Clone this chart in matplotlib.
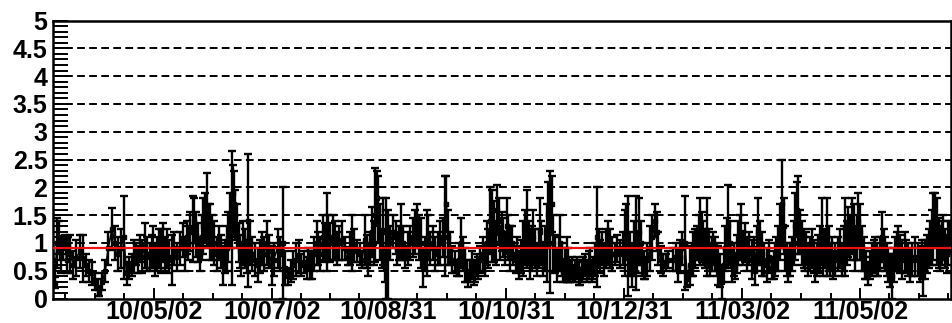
import numpy as np
import matplotlib
matplotlib.use("Agg")
import matplotlib.pyplot as plt
import matplotlib.dates as mdates
from matplotlib.ticker import FixedLocator, MultipleLocator

plt.rcParams["font.family"] = ["Liberation Sans", "DejaVu Sans"]
plt.rcParams["font.weight"] = "bold"

# ---- data -------------------------------------------------------------
start_date = np.datetime64("2010-03-11")
x_end_day = 464

# day offsets from start_date
day = [
    0, 1, 2, 3, 4, 5, 6, 7, 8, 9, 10.5, 12, 14, 15.7, 17, 18.5, 20, 21.5, 23, 24, 25.5, 27, 28.5, 30.5, 32, 33.6, 35, 36.6, 38, 39.5, 41, 42, 43, 44, 45, 46, 47.5, 48.5, 50, 51, 51.7, 52.7, 53.7, 55,
    56, 57, 58, 59, 60, 61.5, 62.5, 64, 65.6, 67, 68, 69, 70, 71, 72.4, 73, 74, 75, 76, 77, 77.5, 78.5, 79.5, 80.3, 81, 82, 83, 84.5, 86, 87, 88, 89, 89.7, 90.5, 91.5, 92.5, 93, 93.5, 94, 95, 96, 96.6, 97.3, 98, 99, 100, 101, 102, 103, 104.5, 106, 107, 108, 109, 110.5, 111.5,
    113, 114, 116, 117.5, 119, 120, 121.5, 123, 124, 125.5, 127, 128, 129.5, 131, 132, 133, 134, 135, 136.4, 137, 138, 139.5, 140.5, 141.5, 142.3, 143, 144.5, 145.7, 147, 148, 149.5, 151, 152.5, 153.5, 154.5, 155.7, 157, 158.5, 159.7, 161, 162, 163, 164, 164.8, 165.7, 166.5, 167.3, 168, 169, 170, 170.5,
    171.3, 172, 173, 174.3, 175.7, 177, 178, 179, 180, 181, 182, 183.3, 184.5, 186, 187, 188, 189, 190, 191, 192, 193, 194, 195, 196.3, 197.5, 199, 200, 201.3, 202.5, 203.3, 204, 205, 206, 207.5, 209, 210, 211, 212, 213, 214, 214.5, 215.5, 216.5, 217.3, 218, 219, 219.6, 220.5, 222, 223, 224, 225, 226, 227,
    228, 229, 229.5, 230.3, 231, 232, 232.6, 233.5, 234.6, 235.3, 236, 237, 237.7, 239, 240, 241, 242, 243, 244, 245, 245.8, 246.5, 247.3, 248, 249, 250, 251, 251.7, 252.4, 253, 254, 255, 256, 257, 257.7, 258.4, 259.5, 260.5, 261.3, 262, 263, 263.6, 264.6, 265.6, 266.3, 267, 268, 268.7, 269.7, 270.8, 271.6, 272.4, 273.2, 274, 275, 276, 276.8, 277.5, 278.3, 279, 280, 281, 282, 282.7, 283.5,
    284.5, 285.5, 287, 288, 289, 290.4, 291.5, 293, 294.3, 295.6, 296.3, 297, 298, 299, 300, 301, 302, 303, 303.7, 304.4, 305.2, 306, 307, 308.5, 309.7, 311, 312, 312.7, 314, 315, 316.5, 318, 320.4, 322, 323, 324, 325, 326.6, 327.7, 329, 330, 330.7, 331.8, 332.8, 333.6, 334.4, 335.2, 336, 337, 338, 338.8, 339.5, 340.3,
    341, 342, 343, 343.7, 344.7, 345.7, 346.5, 347.3, 348.2, 349, 350, 351, 351.7, 352.5, 353.3, 354, 355, 355.7, 356.6, 357.6, 358.6, 359.8, 361, 362, 362.8, 363.6, 364.3, 365.3, 366.4, 367.6, 369, 370.2, 371.6, 372.3, 373, 373.8, 374.7, 375.6, 376.7, 377.5, 378.3, 379.2, 380, 381, 382, 382.8, 383.5, 384.3, 385, 386, 387, 387.8, 388.6, 389.3, 390, 391, 392, 393, 393.8, 394.6, 395.4, 396.4, 397.4,
    398, 399, 400, 400.8, 401.5, 402.3, 403, 404.3, 405.7, 406.7, 407.7, 408.5, 409.3, 410.2, 411, 412, 413, 413.7, 414.5, 415.3, 416, 417, 418, 418.8, 419.6, 420.3, 421, 422, 423, 424, 424.8, 425.6, 426.4, 427.4, 428.4, 429.2, 430, 430.8, 431.5, 432.5, 433.6, 434.3, 435, 436, 436.7, 437.7, 438.8, 440, 441, 442, 443, 444, 445.5, 446.7, 448, 448.8, 449.6, 450.6, 451.7, 452.4, 453, 454, 454.8, 455.8, 456.8, 457.6, 458.4, 459.2, 460, 461, 462, 462.7, 463.5,
]

ratio = [
    0.7, 0.28, 1.0, 1.1, 0.75, 0.9, 1.05, 0.7, 0.95, 0.8, 0.6, 0.73, 0.85, 0.72, 0.6, 0.5, 0.45, 0.3, 0.2, 0.1, 0.3, 0.5, 0.9, 1.25, 1.0, 0.8, 0.9, 1.1, 0.45, 0.55, 0.6, 0.75, 0.8, 0.7, 0.9, 0.75, 0.95, 0.8, 0.75, 0.85, 0.93, 0.7, 0.8, 0.9,
    0.85, 1.0, 0.8, 0.9, 0.75, 0.7, 0.9, 0.75, 0.9, 1.05, 0.8, 1.1, 1.0, 1.2, 1.25, 1.4, 1.15, 1.0, 0.8, 1.1, 1.3, 1.45, 1.6, 1.3, 1.2, 1.1, 1.0, 0.8, 1.0, 0.85, 0.6, 0.75, 0.9, 1.1, 1.4, 1.45, 1.9, 1.7, 1.5, 1.3, 1.0, 0.85, 0.7, 1.0, 0.9, 0.75, 1.4, 1.0, 0.8, 0.7, 0.6, 0.75, 0.9, 0.8, 1.0, 0.85,
    0.6, 0.7, 0.9, 0.8, 1.0, 0.55, 0.4, 0.5, 0.6, 0.7, 0.75, 0.6, 0.65, 0.55, 0.7, 0.6, 0.6, 0.8, 1.0, 0.9, 0.8, 1.1, 1.0, 1.2, 1.1, 1.0, 1.1, 1.05, 0.9, 1.0, 1.05, 0.9, 0.75, 0.9, 1.0, 0.95, 0.85, 0.8, 0.7, 1.05, 0.85, 0.7, 0.9, 1.2, 1.0, 1.5, 1.8, 1.6, 1.2, 0.9, 1.2,
    0.55, 0.9, 0.8, 1.0, 1.2, 1.1, 0.9, 1.0, 1.2, 1.0, 0.75, 0.9, 1.0, 1.1, 1.2, 1.3, 1.1, 1.0, 0.55, 0.8, 1.0, 1.1, 0.9, 1.0, 0.8, 0.9, 1.0, 1.1, 1.3, 1.7, 1.1, 0.9, 0.7, 0.65, 0.55, 0.7, 1.0, 0.8, 0.6, 0.5, 0.35, 0.5, 0.6, 0.45, 0.5, 0.6, 0.55, 0.7, 0.8, 0.7, 1.0, 0.9, 1.4, 1.3,
    1.2, 1.0, 1.6, 1.4, 1.0, 1.2, 1.1, 0.9, 1.3, 1.1, 0.9, 1.0, 0.8, 0.7, 0.8, 0.6, 0.75, 0.9, 1.1, 1.25, 1.0, 0.8, 0.9, 1.1, 0.9, 0.7, 0.9, 1.2, 1.0, 0.7, 0.9, 1.0, 1.5, 1.2, 1.7, 1.0, 0.8, 0.6, 0.8, 1.0, 0.7, 0.5, 0.6, 0.7, 0.6, 0.5, 0.55, 0.45, 0.5, 0.55, 0.45, 0.4, 0.5, 0.55, 0.6, 0.5, 0.6, 0.65, 0.5, 0.55, 0.7, 1.1, 0.9, 0.75, 0.9,
    0.7, 0.9, 1.0, 0.9, 0.8, 0.8, 0.9, 0.8, 0.9, 1.0, 1.2, 0.95, 0.8, 0.6, 0.9, 1.0, 0.8, 1.2, 1.0, 0.7, 0.6, 0.55, 0.7, 0.9, 1.1, 1.4, 1.2, 0.9, 0.7, 0.6, 0.65, 0.7, 0.7, 0.75, 0.6, 0.75, 0.9, 1.0, 0.35, 0.6, 0.7, 0.8, 0.9, 1.0, 1.1, 1.2, 1.1, 1.0, 0.9, 1.1, 0.9, 0.7, 0.8,
    0.9, 0.8, 0.7, 0.6, 0.5, 0.3, 0.6, 0.9, 1.0, 1.3, 1.0, 0.6, 0.7, 0.55, 0.8, 1.0, 1.1, 1.2, 0.9, 1.0, 0.8, 0.9, 0.7, 0.8, 0.5, 0.9, 1.2, 1.0, 0.8, 0.7, 0.6, 0.75, 0.55, 0.6, 0.7, 0.8, 0.9, 1.2, 1.7, 1.3, 0.9, 0.7, 0.6, 0.7, 0.8, 1.0, 1.3, 1.6, 1.5, 1.2, 1.0, 0.9, 0.8, 0.9, 0.7, 0.8, 0.9, 0.75, 0.6, 0.7, 0.8, 0.9, 1.2,
    0.8, 0.9, 1.1, 0.9, 0.7, 0.8, 0.6, 0.7, 0.8, 0.9, 0.7, 0.9, 1.1, 1.0, 1.2, 1.1, 1.3, 1.2, 0.9, 1.1, 1.4, 1.2, 0.9, 0.8, 0.6, 0.55, 0.45, 0.6, 0.7, 0.75, 0.8, 0.7, 0.65, 0.8, 1.1, 0.9, 0.8, 0.7, 0.6, 0.5, 0.4, 0.6, 0.8, 0.85, 0.9, 0.8, 0.7, 0.85, 0.75, 0.7, 0.6, 0.7, 0.75, 0.7, 0.6, 0.7, 0.5, 0.7, 0.8, 0.9, 1.0, 1.1, 1.3, 1.4, 1.2, 1.0, 0.9, 1.0, 1.1, 0.9, 0.8, 1.0, 1.1,
]

err = [
    0.3, 0.1, 0.45, 0.3, 0.3, 0.2, 0.1, 0.25, 0.15, 0.34, 0.25, 0.33, 0.3, 0.42, 0.2, 0.2, 0.2, 0.15, 0.15, 0.05, 0.15, 0.2, 0.3, 0.38, 0.3, 0.3, 0.35, 0.75, 0.2, 0.2, 0.2, 0.3, 0.2, 0.25, 0.25, 0.3, 0.4, 0.3, 0.25, 0.3, 0.38, 0.3, 0.3, 0.35,
    0.4, 0.35, 0.3, 0.35, 0.3, 0.45, 0.3, 0.25, 0.3, 0.3, 0.3, 0.3, 0.3, 0.35, 0.6, 0.4, 0.4, 0.35, 0.3, 0.4, 0.5, 0.45, 0.65, 0.4, 0.5, 0.4, 0.4, 0.3, 0.3, 0.3, 0.35, 0.3, 0.4, 0.45, 0.5, 1.2, 0.5, 0.6, 0.45, 0.4, 0.35, 0.3, 0.3, 0.4, 0.35, 0.3, 1.2, 0.4, 0.3, 0.3, 0.3, 0.3, 0.3, 0.3, 0.4, 0.3,
    0.35, 0.3, 0.35, 0.3, 1.0, 0.3, 0.15, 0.2, 0.25, 0.3, 0.3, 0.2, 0.2, 0.2, 0.2, 0.25, 0.25, 0.3, 0.4, 0.3, 0.3, 0.4, 0.35, 0.7, 0.4, 0.35, 0.4, 0.35, 0.3, 0.3, 0.35, 0.2, 0.15, 0.3, 0.5, 0.3, 0.2, 0.2, 0.15, 0.45, 0.3, 0.3, 0.3, 0.45, 0.4, 0.85, 0.5, 0.6, 0.5, 0.35, 0.6,
    0.25, 0.9, 0.8, 0.3, 0.3, 0.3, 0.3, 0.3, 0.5, 0.3, 0.2, 0.3, 0.3, 0.35, 0.4, 0.4, 0.4, 0.45, 0.35, 0.3, 0.6, 0.4, 0.3, 0.3, 0.3, 0.3, 0.4, 0.35, 0.9, 0.5, 0.5, 0.3, 0.25, 0.2, 0.15, 0.3, 0.45, 0.3, 0.3, 0.2, 0.15, 0.2, 0.25, 0.2, 0.2, 0.2, 0.2, 0.25, 0.3, 0.3, 0.4, 0.35, 0.6, 0.65,
    0.55, 0.4, 0.45, 0.4, 0.3, 0.35, 0.35, 0.3, 0.5, 0.4, 0.4, 0.3, 0.2, 0.25, 0.3, 0.25, 0.3, 0.5, 0.5, 0.7, 0.4, 0.45, 0.4, 0.5, 0.35, 0.3, 0.35, 0.6, 0.4, 0.3, 0.4, 0.7, 0.6, 1.1, 0.5, 0.5, 0.35, 0.3, 0.3, 0.5, 0.3, 0.2, 0.3, 0.4, 0.3, 0.2, 0.2, 0.15, 0.2, 0.2, 0.2, 0.15, 0.2, 0.2, 0.2, 0.2, 0.25, 0.25, 0.2, 0.2, 0.3, 0.9, 0.35, 0.3, 0.3,
    0.3, 0.35, 0.4, 0.35, 0.3, 0.2, 0.25, 0.25, 0.3, 0.6, 0.5, 0.9, 0.4, 0.4, 0.5, 0.85, 0.35, 0.6, 0.4, 0.3, 0.25, 0.2, 0.3, 0.4, 0.4, 0.3, 0.35, 0.3, 0.25, 0.2, 0.15, 0.15, 0.2, 0.25, 0.3, 0.3, 0.3, 0.85, 0.15, 0.35, 0.3, 0.4, 0.35, 0.3, 0.4, 0.6, 0.45, 0.4, 0.35, 0.7, 0.35, 0.3, 0.3,
    0.3, 0.3, 0.3, 0.35, 0.3, 0.3, 0.3, 0.4, 0.45, 0.75, 0.4, 0.3, 0.3, 0.2, 0.35, 0.4, 0.4, 0.5, 0.3, 0.35, 0.3, 0.3, 0.35, 0.3, 0.25, 0.4, 0.6, 0.4, 0.4, 0.3, 0.3, 0.3, 0.2, 0.25, 0.3, 0.3, 0.4, 0.5, 0.8, 0.5, 0.4, 0.3, 0.3, 0.3, 0.3, 0.4, 0.6, 0.5, 0.7, 0.4, 0.4, 0.35, 0.3, 0.3, 0.3, 0.3, 0.35, 0.3, 0.3, 0.3, 0.35, 0.4, 0.6,
    0.4, 0.35, 0.7, 0.4, 0.3, 0.3, 0.25, 0.3, 0.3, 0.35, 0.3, 0.4, 0.7, 0.4, 0.45, 0.4, 0.5, 0.5, 0.4, 0.4, 0.5, 0.5, 0.4, 0.3, 0.25, 0.2, 0.2, 0.25, 0.3, 0.3, 0.3, 0.3, 0.25, 0.3, 0.45, 0.35, 0.3, 0.3, 0.3, 0.3, 0.4, 0.3, 0.3, 0.35, 0.4, 0.35, 0.35, 0.35, 0.3, 0.3, 0.3, 0.3, 0.35, 0.3, 0.3, 0.35, 0.45, 0.35, 0.35, 0.35, 0.4, 0.5, 0.6, 0.5, 0.6, 0.45, 0.4, 0.4, 0.4, 0.35, 0.35, 0.4, 0.3,
]

reference_level = 0.91
tick_dates = ["2010-05-02", "2010-07-02", "2010-08-31", "2010-10-31",
              "2010-12-31", "2011-03-02", "2011-05-02"]
y_ticks = [0, 0.5, 1, 1.5, 2, 2.5, 3, 3.5, 4, 4.5, 5]
y_labels = ["0", "0.5", "1", "1.5", "2", "2.5", "3", "3.5", "4", "4.5", "5"]

# ---- figure -----------------------------------------------------------
W, H = 952, 323
fig = plt.figure(figsize=(W / 100, H / 100), dpi=100)
ax = fig.add_axes([53 / W, 1 - 298.5 / H, (951 - 53) / W, (298.5 - 20.5) / H])

t0 = mdates.date2num(start_date)
x = t0 + np.asarray(day, dtype=float)

# dashed horizontal grid
for v in y_ticks[1:-1]:
    ax.axhline(v, color="black", lw=1.4, dashes=(4, 2.2), zorder=1)

ax.errorbar(x, ratio, yerr=err, fmt="-s", color="black", lw=1.2, ms=2.8,
            elinewidth=1.7, capsize=2.8, capthick=1.7, zorder=3)

ax.axhline(reference_level, color="#ee1111", lw=1.6, zorder=5)

ax.set_xlim(t0, t0 + x_end_day)
ax.set_ylim(0, 5)

# x ticks: major at the labelled dates, four subdivisions each
major = mdates.date2num(np.array(tick_dates, dtype="datetime64[D]"))
step = np.mean(np.diff(major)) / 4
minor = []
m = major[0] - step
while m > t0:
    minor.append(m)
    m -= step
for a, b in zip(major[:-1], major[1:]):
    minor.extend([a + (b - a) * k / 4 for k in (1, 2, 3)])
m = major[-1] + step
while m < t0 + x_end_day:
    minor.append(m)
    m += step
ax.xaxis.set_major_locator(FixedLocator(major))
ax.xaxis.set_minor_locator(FixedLocator(minor))
ax.set_xticklabels([mdates.num2date(v).strftime("%y/%m/%d") for v in major])

ax.yaxis.set_major_locator(FixedLocator(y_ticks))
ax.yaxis.set_minor_locator(MultipleLocator(0.1))
ax.set_yticklabels(y_labels)

ax.tick_params(axis="y", which="both", direction="in", length=11, width=1.4,
               labelsize=18, pad=4)
ax.tick_params(axis="x", which="major", direction="in", length=8, width=1.4,
               labelsize=18, pad=1.0)
ax.tick_params(axis="x", which="minor", direction="in", length=4.5, width=1.4)
ax.tick_params(top=False, right=False)

for lab in ax.get_xticklabels() + ax.get_yticklabels():
    lab.set_fontweight("bold")

for s in ax.spines.values():
    s.set_linewidth(1.8)

fig.savefig("out.png", dpi=100)
